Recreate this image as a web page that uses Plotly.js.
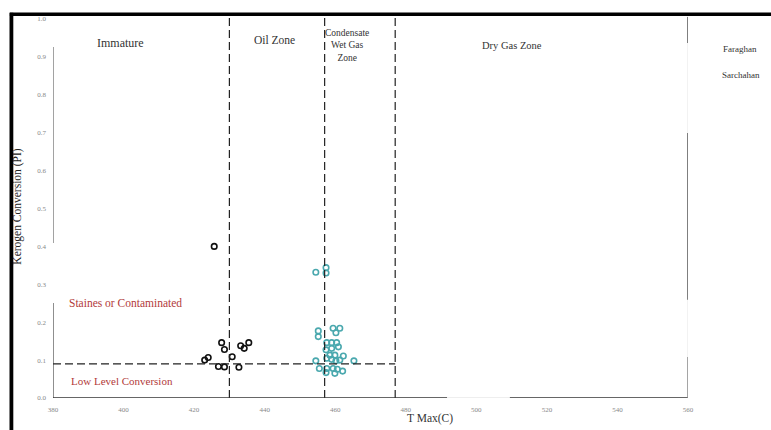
<!DOCTYPE html>
<html>
<head>
<meta charset="utf-8">
<script src="https://cdn.plot.ly/plotly-3.0.1.min.js"></script>
<style>
  html, body { margin: 0; padding: 0; background: #fff; }
  #chart { width: 771px; height: 430px; }
</style>
</head>
<body>
<div id="chart"></div>
<script>
// ---- Data ----
const faraghanTmax = [425.7, 427.8, 428.6, 423.0, 424.0, 426.9, 428.6, 430.8, 432.7, 433.2, 434.2, 435.5];
const faraghanPI   = [0.400, 0.146, 0.128, 0.100, 0.107, 0.083, 0.082, 0.109, 0.081, 0.138, 0.131, 0.146];

const sarchahanTmax = [454.5, 457.4, 457.4, 455.2, 455.2, 459.4, 461.3, 460.2, 457.6, 459.0,
                       460.4, 460.9, 457.4, 459.0, 458.5, 459.9, 462.3, 454.5, 457.6, 459.0,
                       460.2, 461.3, 465.3, 455.5, 457.6, 457.4, 459.4, 460.6, 459.9, 462.1];
const sarchahanPI   = [0.332, 0.344, 0.330, 0.177, 0.162, 0.184, 0.184, 0.172, 0.146, 0.146,
                       0.146, 0.135, 0.127, 0.131, 0.113, 0.113, 0.111, 0.098, 0.105, 0.102,
                       0.098, 0.100, 0.098, 0.078, 0.078, 0.067, 0.078, 0.076, 0.065, 0.071];

const xTickVals = [380, 400, 420, 440, 460, 480, 500, 520, 540, 560];
const yTickVals = [0, 0.1, 0.2, 0.3, 0.4, 0.5, 0.6, 0.7, 0.8, 0.9, 1.0];
const yTickText = ['0.0', '0.1', '0.2', '0.3', '0.4', '0.5', '0.6', '0.7', '0.8', '0.9', '1.0'];

const zoneBoundaries = [430, 457, 477];   // Tmax boundaries of maturity zones
const lowConversionPI = 0.09;             // PI boundary of low level conversion

const seriesNames = ['Faraghan', 'Sarchahan'];

// ---- Chart ----
const serif = 'Liberation Serif, Times New Roman, serif';

const traces = [
  {
    x: faraghanTmax, y: faraghanPI, name: seriesNames[0],
    type: 'scatter', mode: 'markers', showlegend: false,
    marker: { symbol: 'circle-open', size: 5.5, color: '#111111', line: { width: 1.6 } }
  },
  {
    x: sarchahanTmax, y: sarchahanPI, name: seriesNames[1],
    type: 'scatter', mode: 'markers', showlegend: false,
    marker: { symbol: 'circle-open', size: 5.5, color: '#4aa8ae', line: { width: 1.6 } }
  }
];

const dashLine = { color: '#222', width: 1.2, dash: '8px,4px' };
const shapes = [];
zoneBoundaries.forEach(t => {
  shapes.push({ type: 'line', xref: 'x', yref: 'paper', x0: t, x1: t, y0: 0, y1: 1, line: dashLine });
});
shapes.push({ type: 'line', xref: 'x', yref: 'y', x0: 380, x1: zoneBoundaries[2],
              y0: lowConversionPI, y1: lowConversionPI, line: dashLine });

// axis frame lines (scanned look: partial segments)
const axisCol = '#333';
shapes.push({ type: 'line', xref: 'x', yref: 'y', x0: 380, x1: 380, y0: 0, y1: 0.251, line: { color: axisCol, width: 1.1 } });
shapes.push({ type: 'line', xref: 'x', yref: 'y', x0: 380, x1: 380, y0: 0.409, y1: 0.926, line: { color: '#555', width: 1.1 } });
shapes.push({ type: 'line', xref: 'x', yref: 'y', x0: 380, x1: 491.7, y0: 0, y1: 0, line: { color: axisCol, width: 1.3 } });
shapes.push({ type: 'line', xref: 'x', yref: 'y', x0: 491.7, x1: 509.5, y0: 0, y1: 0, line: { color: '#ddd', width: 1.1 } });
shapes.push({ type: 'line', xref: 'x', yref: 'y', x0: 509.5, x1: 560, y0: 0, y1: 0, line: { color: axisCol, width: 1.3 } });
shapes.push({ type: 'line', xref: 'x', yref: 'paper', x0: 560, x1: 560, y0: 0, y1: 1, line: { color: '#e4e4e4', width: 1 } });
shapes.push({ type: 'line', xref: 'x', yref: 'y', x0: 560, x1: 560, y0: 0.937, y1: 1.005, line: { color: axisCol, width: 1.2 } });
shapes.push({ type: 'line', xref: 'x', yref: 'y', x0: 560, x1: 560, y0: 0.259, y1: 0.699, line: { color: axisCol, width: 1.2 } });
shapes.push({ type: 'line', xref: 'x', yref: 'y', x0: 560, x1: 560, y0: 0, y1: 0.108, line: { color: '#666', width: 1.1 } });

// outer thick black border (top and left edges of the scan)
shapes.push({ type: 'line', xref: 'paper', yref: 'paper', x0: -0.068, x1: 1.14, y0: 1.0018, y1: 1.0018, line: { color: '#000', width: 3.5 } });
shapes.push({ type: 'line', xref: 'paper', yref: 'paper', x0: -0.0655, x1: -0.0655, y0: 1.006, y1: -0.1, line: { color: '#000', width: 3.8 } });

const zoneFont = { family: serif, size: 12, color: '#333' };
const redFont = { family: serif, size: 11.5, color: '#b23a3a' };
const annotations = [
  { text: 'Immature', x: 399, y: 0.937, xref: 'x', yref: 'y', showarrow: false, font: zoneFont },
  { text: 'Oil Zone', x: 442.8, y: 0.945, xref: 'x', yref: 'y', showarrow: false, font: { family: serif, size: 11.5, color: '#333' } },
  { text: 'Condensate<br>Wet Gas<br>Zone', x: 463.2, y: 0.929, xref: 'x', yref: 'y', showarrow: false,
    font: { family: serif, size: 9.5, color: '#333' } },
  { text: 'Dry Gas Zone', x: 510, y: 0.93, xref: 'x', yref: 'y', showarrow: false, font: { family: serif, size: 10.5, color: '#333' } },
  { text: 'Staines or Contaminated', x: 400.5, y: 0.25, xref: 'x', yref: 'y', showarrow: false, font: redFont },
  { text: 'Low Level Conversion', x: 399.5, y: 0.045, xref: 'x', yref: 'y', showarrow: false, font: { family: serif, size: 11, color: '#b23a3a' } },
  { text: seriesNames[0], x: 739.5, y: 49, xref: 'paper', yref: 'paper', showarrow: false,
    font: { family: serif, size: 9, color: '#333' } },
  { text: seriesNames[1], x: 740.5, y: 75, xref: 'paper', yref: 'paper', showarrow: false,
    font: { family: serif, size: 9, color: '#333' } },
  { text: 'T Max(C)', x: 430, y: 418, xref: 'paper', yref: 'paper', showarrow: false,
    font: { family: serif, size: 11.5, color: '#333' } }
];
// convert pixel-placed annotations (legend texts, x title) to paper coords
const L = 53, R = 688, T = 15, B = 398;
annotations.forEach(a => {
  a.xanchor = 'center'; a.yanchor = 'middle';
  if (a.xref === 'paper' && a.x > 2) { a.x = (a.x - L) / (R - L); }
  if (a.yref === 'paper' && a.y > 2) { a.y = (B - a.y) / (B - T); }
});

const layout = {
  width: 771, height: 430,
  margin: { l: L, r: 771 - R, t: T, b: 430 - B },
  paper_bgcolor: '#ffffff', plot_bgcolor: '#ffffff',
  showlegend: false,
  xaxis: {
    range: [380, 560], tickvals: xTickVals, ticks: '', showgrid: false, zeroline: false, showline: false,
    tickfont: { family: serif, size: 7, color: '#888' }, ticklabelstandoff: 6
  },
  yaxis: {
    range: [0, 1.0106], tickvals: yTickVals, ticktext: yTickText, ticks: '', showgrid: false,
    zeroline: false, showline: false,
    tickfont: { family: serif, size: 7, color: '#888' }, ticklabelstandoff: 6,
    title: { text: 'Kerogen Conversion (PI)', font: { family: serif, size: 11.5, color: '#222' }, standoff: 13 }
  },
  shapes: shapes,
  annotations: annotations
};

Plotly.newPlot('chart', traces, layout, { displayModeBar: false, staticPlot: true });
</script>
</body>
</html>
